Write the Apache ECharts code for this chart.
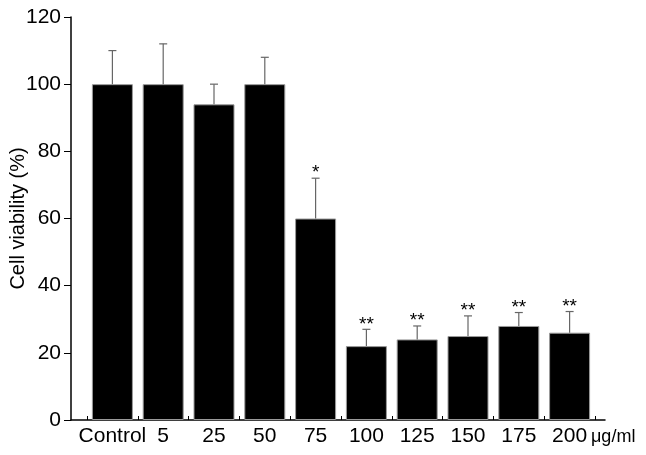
<!DOCTYPE html>
<html>
<head>
<meta charset="utf-8">
<script src="https://cdn.jsdelivr.net/npm/echarts@6/dist/echarts.min.js"></script>
<style>
html, body { margin: 0; padding: 0; background: #fff; }
#chart { width: 646px; height: 455px; }
</style>
</head>
<body>
<div id="chart"></div>
<script>
// data
const categories = ['Control', '5', '25', '50', '75', '100', '125', '150', '175', '200'];
const viability = [100, 100, 94, 100, 60, 22, 24, 25, 28, 26];
const errorUp = [10, 12, 6, 8, 12, 5, 4, 6, 4, 6.3];
const marks = ['', '', '', '', '*', '**', '**', '**', '**', '**'];
const yTicks = { min: 0, max: 120, interval: 20 };

const font = 'Arial, "Liberation Sans", sans-serif';

const errData = categories.map((c, i) => [i, viability[i], viability[i] + errorUp[i]]);

const chart = echarts.init(document.getElementById('chart'));

const option = {
    animation: false,
    backgroundColor: '#fff',
    grid: [
        // outer grid: axis lines (x line runs a little past the bars)
        { left: 71, right: 41, top: 17, bottom: 35, containLabel: false, outerBoundsMode: 'none' },
        // inner grid: the categories
        { left: 87, right: 51, top: 17, bottom: 35, containLabel: false, outerBoundsMode: 'none' }
    ],
    xAxis: [
        {
            type: 'value', gridIndex: 0, min: 0, max: 1,
            axisLine: { show: true, lineStyle: { color: '#000', width: 1.5 } },
            axisTick: { show: false }, axisLabel: { show: false }, splitLine: { show: false }
        },
        {
            type: 'category', gridIndex: 1, data: categories,
            axisLine: { show: false },
            axisTick: { show: true, inside: true, length: 4, lineStyle: { color: '#000' } },
            axisLabel: { color: '#000', fontSize: 21, fontFamily: font, margin: 6, interval: 0 },
            name: 'μg/ml', nameLocation: 'end', nameGap: -4, nameMoveOverlap: false,
            nameTextStyle: { color: '#000', fontSize: 18, fontFamily: font, align: 'left', verticalAlign: 'top', padding: [8, 0, 0, 0] },
            splitLine: { show: false }
        }
    ],
    yAxis: [
        {
            type: 'value', gridIndex: 0, min: yTicks.min, max: yTicks.max, interval: yTicks.interval,
            axisLine: { show: true, lineStyle: { color: '#000', width: 1.5 } },
            axisTick: { show: true, inside: false, length: 7, lineStyle: { color: '#000' } },
            axisLabel: { color: '#000', fontSize: 21, fontFamily: font, margin: 10 },
            splitLine: { show: false },
            name: 'Cell viability (%)', nameLocation: 'middle', nameGap: 43, nameRotate: 90,
            nameMoveOverlap: false,
            nameTextStyle: { color: '#000', fontSize: 20, fontFamily: font }
        },
        {
            type: 'value', gridIndex: 1, min: yTicks.min, max: yTicks.max, interval: yTicks.interval,
            show: false
        }
    ],
    series: [
        {
            type: 'bar', xAxisIndex: 1, yAxisIndex: 1,
            data: viability,
            barWidth: 41,
            itemStyle: { color: '#000', borderColor: '#9a9a9a', borderWidth: 1 },
            z: 2
        },
        {
            type: 'custom', xAxisIndex: 1, yAxisIndex: 1,
            data: errData,
            z: 3,
            renderItem: function (params, api) {
                const base = api.coord([api.value(0), api.value(1)]);
                const top = api.coord([api.value(0), api.value(2)]);
                const mark = marks[params.dataIndex];
                const kids = [
                    { type: 'line', shape: { x1: base[0], y1: base[1], x2: top[0], y2: top[1] },
                      style: { stroke: '#666', lineWidth: 1.2 } },
                    { type: 'line', shape: { x1: top[0] - 4, y1: top[1], x2: top[0] + 4, y2: top[1] },
                      style: { stroke: '#666', lineWidth: 1.2 } }
                ];
                if (mark) {
                    kids.push({
                        type: 'text',
                        style: {
                            text: mark, x: top[0], y: top[1] - 5,
                            align: 'center', verticalAlign: 'middle',
                            fontSize: 19, fontFamily: font, fill: '#000'
                        }
                    });
                }
                return { type: 'group', children: kids };
            }
        }
    ]
};

chart.setOption(option);
</script>
</body>
</html>
